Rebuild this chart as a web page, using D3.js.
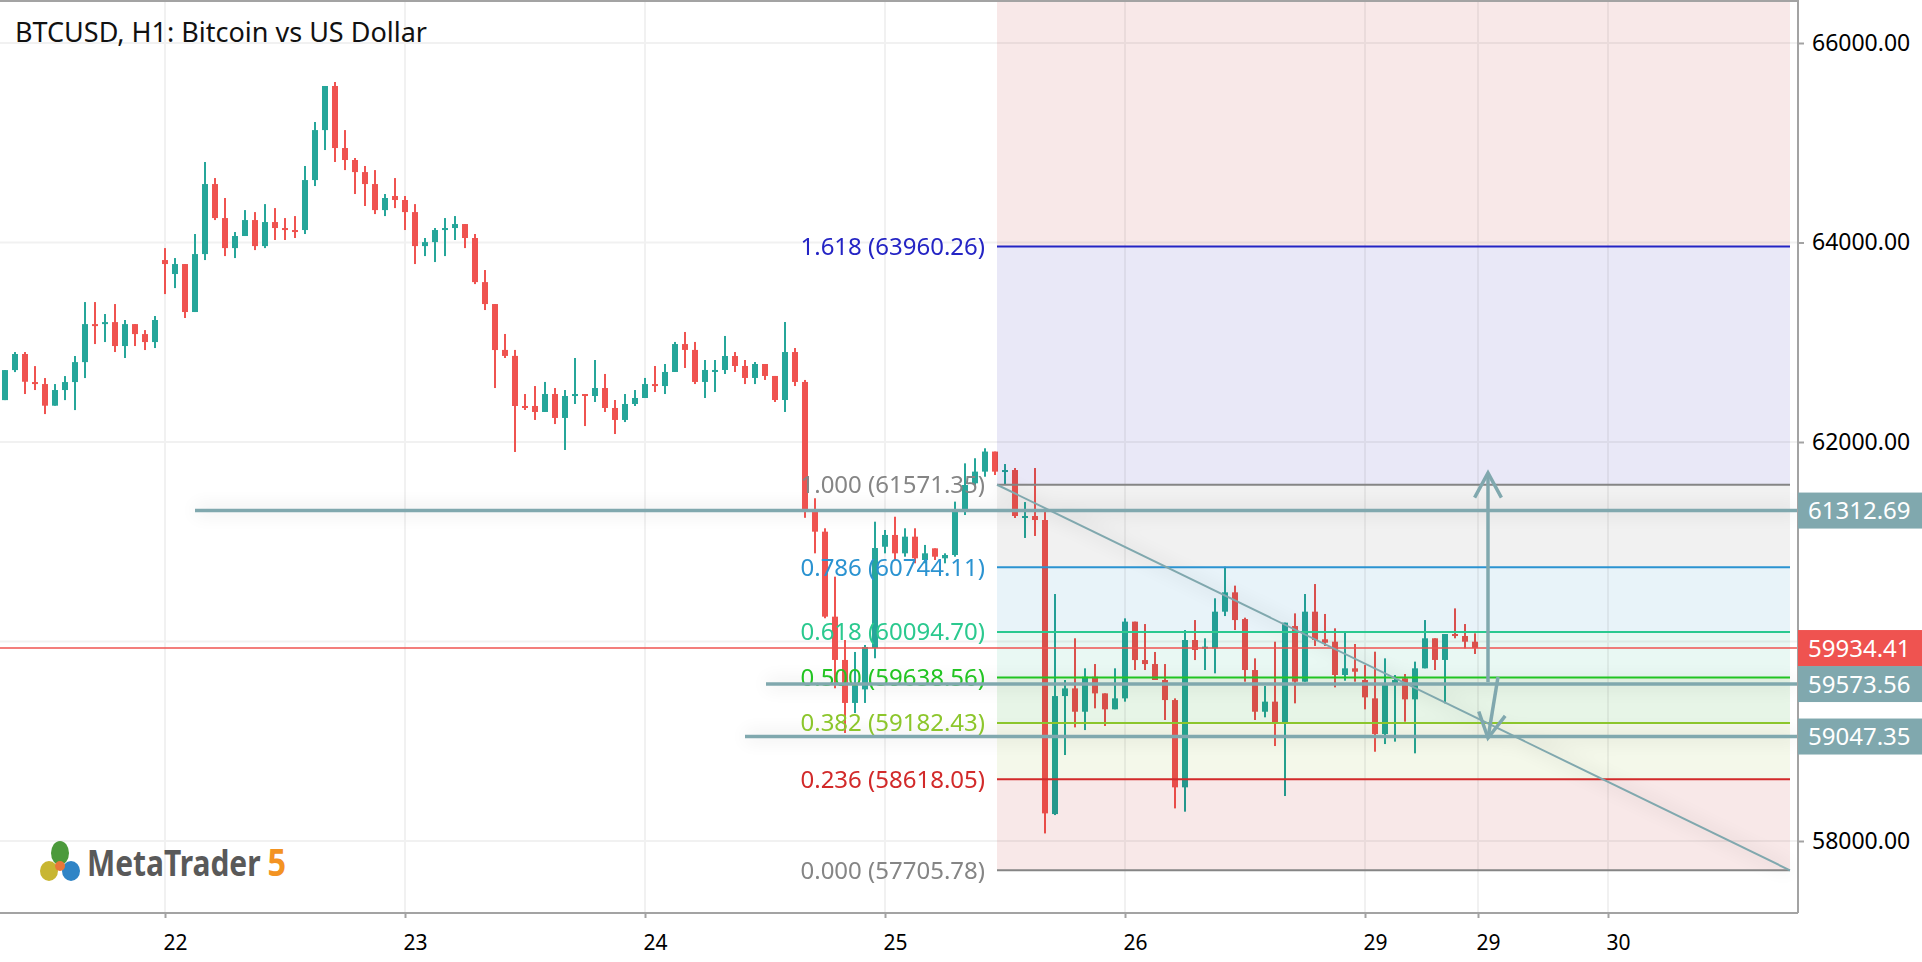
<!DOCTYPE html>
<html>
<head>
<meta charset="utf-8">
<script src="https://cdn.jsdelivr.net/npm/d3@7"></script>
<style>
body{margin:0;background:#fff;overflow:hidden}
svg{display:block}
</style>
</head>
<body>
<svg id="board" width="1922" height="962"></svg>
<script>
// BTCUSD H1 candles, index 0 = 21st 08:00, one per hour
opens = [62420,62721,62882,62601,62581,62364,62521,62601,62801,63182,63182,63202,
         62962,63182,63082,63002,63824,63684,63784,63303,63884,64586,64245,63944,
         64065,64225,63964,64205,64145,64125,64125,64626,65127,65569,64947,64827,
         64706,64586,64325,64466,64426,64305,63964,64004,64125,64145,64185,64045,
         63603,63383,62923,62863,62361,62361,62301,62481,62241,62461,62481,62461,
         62541,62341,62221,62381,62441,62581,62561,62702,62982,62923,62602,62702,
         62722,62862,62762,62642,62782,62662,62421,62902,62602,61300,61101,60249,
         59815,59384,59520,59935,60950,61068,60884,61051,60817,60934,60834,60867,
         61301,61586,61703,61904,61699,61719,61238,61258,61218,58270,59453,59530,
         59296,59647,59480,59320,59430,60199,59814,59774,59614,59413,58538,60015,
         59928,59931,60299,60493,60225,59714,59296,59397,59186,60155,59597,60299,
         60022,59998,59664,59731,59614,59430,59072,59564,59631,59420,59731,60032,
         59815,60075,60055,59998];
highs = [62721,62902,62902,62761,62641,62581,62661,62862,63403,63403,63283,63383,
         63223,63182,63122,63263,63944,63844,63784,64085,64807,64646,64446,64105,
         64325,64305,64385,64345,64245,64265,64767,65208,65569,65609,65127,64847,
         64767,64726,64486,64646,64466,64385,64045,64145,64245,64265,64185,64085,
         63724,63383,63083,62923,62481,62561,62602,62541,62521,62842,62481,62822,
         62682,62421,62481,62521,62642,62762,62782,63003,63103,63003,62822,62822,
         63063,62902,62822,62802,62782,62662,63203,62942,62622,61436,61135,60650,
         60015,59895,59965,61201,61118,61251,61135,61135,60968,60934,60884,61402,
         61786,61837,61937,61904,61779,61739,61398,61739,61318,60476,59614,60032,
         59731,59774,59480,59731,60232,60199,60175,59895,59774,59430,60115,60215,
         60032,60433,60750,60560,60239,59831,59554,59998,60189,60282,60476,60576,
         60276,60132,60088,59975,59764,59898,59831,59664,59674,59798,60215,60032,
         60075,60332,60175,60082];
lows = [62420,62701,62481,62521,62280,62364,62420,62320,62641,62982,63002,62902,
        62842,62962,62922,62942,63483,63543,63243,63303,63824,64225,63864,63844,
        64065,63924,63944,64025,64025,64045,64085,64566,64927,64807,64726,64486,
        64366,64285,64265,64345,64125,63784,63864,63804,63864,64025,63944,63583,
        63323,62541,62842,61900,62321,62221,62301,62180,61920,62381,62160,62401,
        62301,62080,62200,62361,62441,62501,62481,62702,62742,62581,62441,62501,
        62682,62702,62581,62581,62622,62401,62301,62561,61240,60884,60233,59531,
        59083,59283,59384,59832,60884,60817,60850,60784,60784,60817,60784,60850,
        61268,61569,61652,61669,61579,61238,61038,61058,58076,58260,58862,59139,
        59112,59330,59153,59320,59397,59714,59714,59614,59213,58327,58294,59814,
        59714,59681,60255,60115,59597,59213,59240,58952,58451,59380,59597,59955,
        59955,59540,59607,59597,59320,58895,58972,58996,59196,58879,59731,59714,
        59380,60032,59931,59875];
closes = [62721,62882,62604,62581,62364,62521,62601,62801,63182,63162,63202,62962,
          63182,63082,63002,63223,63784,63784,63303,63884,64586,64245,63944,64065,
          64225,63964,64205,64145,64125,64105,64626,65127,65569,64947,64827,64706,
          64586,64325,64446,64426,64305,63964,64004,64125,64145,64185,64045,63603,
          63383,62922,62863,62361,62341,62301,62481,62241,62461,62481,62461,62541,
          62341,62221,62381,62441,62581,62561,62702,62982,62923,62602,62722,62722,
          62862,62762,62642,62782,62662,62421,62902,62602,61300,61101,60249,59815,
          59384,59560,59945,60937,61068,60884,61051,60834,60884,60850,60867,61301,
          61569,61703,61904,61703,61719,61258,61258,61218,58277,59453,59530,59296,
          59647,59480,59320,59430,60199,59814,59774,59614,59413,58538,60015,59915,
          59948,60299,60493,60215,59714,59296,59397,59186,60189,59597,60299,60015,
          59988,59664,59731,59697,59440,59072,59564,59614,59420,59731,60032,59815,
          60075,60055,59998,59934.41];

dayIdx = [16, 40, 64, 88, 112, 136, 147.3, 160.3];
dayLabels = ['22', '23', '24', '25', '26', '29', '29', '30'];
gridPrices = [58000, 60000, 62000, 64000, 66000];
axisPrices = [58000, 62000, 64000, 66000];

fibRatios = [1.618, 1, 0.786, 0.618, 0.5, 0.382, 0.236, 0];
fibPrices = [63960.26, 61571.35, 60744.11, 60094.70, 59638.56, 59182.43, 58618.05, 57705.78];
fibStart = 99.2;
fibEnd = 178.5;

levelPrices = [61312.69, 59573.56, 59047.35];
levelStart = [19, 76.1, 74];
lastPrice = 59934.41;

trendFrom = [99.2, 61571.35];
trendTo = [178.5, 57705.78];
arrowFrom = [[148.3, 59594], [149.3, 59644]];
arrowTo = [[148.3, 61689], [148.3, 59033]];

// styles
fibColors = ['#2424c4', '#858585', '#2b93d1', '#2bc98f', '#22c422', '#8cc62c', '#d22a2a', '#858585'];
zoneColors = ['#f8e8e8', '#e9e8f7', '#f1f1f1', '#e8f3f9', '#e9f8f3', '#e7f5e7', '#f4f8ea', '#f8e8e8'];
upColor = '#26a69a';
downColor = '#ef5350';
lineColor = '#80a8ae';
FONT = '"Noto Sans", "Open Sans", sans-serif';

W = 1798;
H = 913;

board = d3.select('#board').attr('font-family', FONT);

x = d3.scaleLinear().domain([-0.5, 179.3]).range([0, W]);
y = d3.scaleLinear().domain([58000, 66000]).range([841, 43]);

defs = board.append('defs');
defs.append('clipPath').attr('id', 'plot')
    .append('rect').attr('x', 0).attr('y', 0).attr('width', W).attr('height', H);
defs.append('filter').attr('id', 'soft')
    .attr('filterUnits', 'userSpaceOnUse')
    .attr('x', 0).attr('y', 0).attr('width', 1922).attr('height', 962)
    .append('feGaussianBlur').attr('stdDeviation', 9);

plot = board.append('g').attr('clip-path', 'url(#plot)');

// grid
plot.selectAll('.hgrid').data(gridPrices).enter().append('line')
    .attr('x1', 0).attr('x2', W)
    .attr('y1', d => y(d)).attr('y2', d => y(d))
    .attr('stroke', '#f1f1f1').attr('stroke-width', 2);
plot.selectAll('.vgrid').data(dayIdx).enter().append('line')
    .attr('x1', d => x(d)).attr('x2', d => x(d))
    .attr('y1', 0).attr('y2', H)
    .attr('stroke', '#f1f1f1').attr('stroke-width', 2);

// soft shadows under the drawn lines
shadow = plot.append('g').attr('filter', 'url(#soft)').attr('opacity', 0.07);
levelPrices.forEach(function(p, i){
    shadow.append('line')
        .attr('x1', x(levelStart[i])).attr('x2', W)
        .attr('y1', y(p)).attr('y2', y(p))
        .attr('stroke', '#000').attr('stroke-width', 10);
});
shadow.append('line')
    .attr('x1', x(trendFrom[0])).attr('y1', y(trendFrom[1]))
    .attr('x2', x(trendTo[0])).attr('y2', y(trendTo[1]))
    .attr('stroke', '#000').attr('stroke-width', 8);

// candles
candles = plot.append('g');
opens.forEach(function(o, i){
    var c = closes[i];
    var col = c >= o ? upColor : downColor;
    var cx = x(i);
    candles.append('rect')
        .attr('x', cx - 1).attr('width', 2)
        .attr('y', y(highs[i])).attr('height', Math.max(1, y(lows[i]) - y(highs[i])))
        .attr('fill', col);
    var bodyTop = y(Math.max(o, c));
    candles.append('rect')
        .attr('x', cx - 3).attr('width', 6)
        .attr('y', bodyTop).attr('height', Math.max(2, y(Math.min(o, c)) - bodyTop))
        .attr('fill', col);
});

// fibonacci zones, multiplied over the candles
zones = plot.append('g').style('mix-blend-mode', 'multiply');
zoneTops = [0].concat(fibPrices.slice(0, -1).map(p => y(p)));
zoneBots = fibPrices.map(p => y(p));
zoneColors.forEach(function(col, i){
    zones.append('rect')
        .attr('x', x(fibStart)).attr('width', x(fibEnd) - x(fibStart))
        .attr('y', zoneTops[i]).attr('height', zoneBots[i] - zoneTops[i])
        .attr('fill', col);
});

// last price line
plot.append('line')
    .attr('x1', 0).attr('x2', W)
    .attr('y1', y(lastPrice)).attr('y2', y(lastPrice))
    .attr('stroke', downColor).attr('stroke-width', 1.5);

// fibonacci levels and labels
fibPrices.forEach(function(p, i){
    plot.append('line')
        .attr('x1', x(fibStart)).attr('x2', x(fibEnd))
        .attr('y1', y(p)).attr('y2', y(p))
        .attr('stroke', fibColors[i]).attr('stroke-width', 2);
    plot.append('text')
        .attr('x', x(fibStart) - 12).attr('y', y(p)).attr('dy', '0.35em')
        .attr('text-anchor', 'end').attr('font-size', 24)
        .attr('fill', fibColors[i])
        .text(fibRatios[i].toFixed(3) + ' (' + p.toFixed(2) + ')');
});

// horizontal levels
levelPrices.forEach(function(p, i){
    plot.append('line')
        .attr('x1', x(levelStart[i])).attr('x2', W)
        .attr('y1', y(p)).attr('y2', y(p))
        .attr('stroke', lineColor).attr('stroke-width', 3.5);
});

// trend line
plot.append('line')
    .attr('x1', x(trendFrom[0])).attr('y1', y(trendFrom[1]))
    .attr('x2', x(trendTo[0])).attr('y2', y(trendTo[1]))
    .attr('stroke', lineColor).attr('stroke-width', 2);

// arrows
arrowFrom.forEach(function(a, i){
    var x1 = x(a[0]), y1 = y(a[1]);
    var x2 = x(arrowTo[i][0]), y2 = y(arrowTo[i][1]);
    var ang = Math.atan2(y2 - y1, x2 - x1);
    var head = 28, spread = Math.PI / 6.3;
    var pts = [[x2 - head * Math.cos(ang - spread), y2 - head * Math.sin(ang - spread)],
               [x2, y2],
               [x2 - head * Math.cos(ang + spread), y2 - head * Math.sin(ang + spread)]];
    plot.append('line')
        .attr('x1', x1).attr('y1', y1).attr('x2', x2).attr('y2', y2)
        .attr('stroke', lineColor).attr('stroke-width', 3.5);
    plot.append('path')
        .attr('d', d3.line()(pts))
        .attr('fill', 'none').attr('stroke', lineColor).attr('stroke-width', 3.5);
});

// frame
frame = '#a3a3a3';
board.append('line').attr('x1', 0).attr('x2', W).attr('y1', 1).attr('y2', 1)
    .attr('stroke', frame).attr('stroke-width', 2);
board.append('line').attr('x1', W).attr('x2', W).attr('y1', 0).attr('y2', H)
    .attr('stroke', frame).attr('stroke-width', 2);
board.append('line').attr('x1', 0).attr('x2', W).attr('y1', H).attr('y2', H)
    .attr('stroke', frame).attr('stroke-width', 2);

// axes
yAxis = board.append('g').attr('transform', 'translate(' + W + ',0)')
    .call(d3.axisRight(y).tickValues(axisPrices).tickSize(6).tickPadding(8)
        .tickFormat(d3.format('.2f')));
yAxis.select('.domain').remove();
yAxis.attr('font-family', FONT);
yAxis.selectAll('line').attr('stroke', frame).attr('stroke-width', 2);
yAxis.selectAll('text').attr('font-size', 23).attr('fill', '#000');

xAxis = board.append('g').attr('transform', 'translate(0,' + H + ')')
    .call(d3.axisBottom(x).tickValues(dayIdx).tickSize(5).tickPadding(17)
        .tickFormat((d, i) => dayLabels[i]));
xAxis.select('.domain').remove();
xAxis.attr('font-family', FONT);
xAxis.selectAll('line').attr('stroke', frame).attr('stroke-width', 2);
xAxis.selectAll('text').attr('font-size', 21).attr('fill', '#000').attr('dx', 10);

// price boxes on the axis
boxPrices = levelPrices.concat([lastPrice]);
boxColors = [lineColor, lineColor, lineColor, downColor];
boxPrices.forEach(function(p, i){
    board.append('rect')
        .attr('x', W).attr('width', 1922 - W)
        .attr('y', y(p) - 18).attr('height', 36)
        .attr('fill', boxColors[i]);
    board.append('text')
        .attr('x', W + 10).attr('y', y(p)).attr('dy', '0.36em')
        .attr('font-size', 24).attr('fill', '#fff')
        .text(d3.format('.2f')(p));
});

// title
board.append('text')
    .attr('x', 15).attr('y', 42)
    .attr('font-size', 27).attr('fill', '#111')
    .text('BTCUSD, H1: Bitcoin vs US Dollar');

// MetaTrader 5 logo
logo = board.append('g');
logo.append('ellipse').attr('cx', 49).attr('cy', 871).attr('rx', 9).attr('ry', 10).attr('fill', '#c8b632');
logo.append('ellipse').attr('cx', 71).attr('cy', 871).attr('rx', 9).attr('ry', 10).attr('fill', '#2f84c6');
logo.append('ellipse').attr('cx', 60).attr('cy', 853).attr('rx', 9).attr('ry', 12).attr('fill', '#4b9a3b');
logo.append('circle').attr('cx', 60).attr('cy', 866).attr('r', 5).attr('fill', '#e9763a');
brand = logo.append('text')
    .attr('transform', 'translate(87,876) scale(0.855,1)')
    .attr('font-size', 35).attr('font-weight', 'bold');
brand.append('tspan').attr('fill', '#595959').text('MetaTrader');
brand.append('tspan').attr('fill', '#f39322').attr('font-size', 38).attr('dx', 8).text('5');
</script>
</body>
</html>
